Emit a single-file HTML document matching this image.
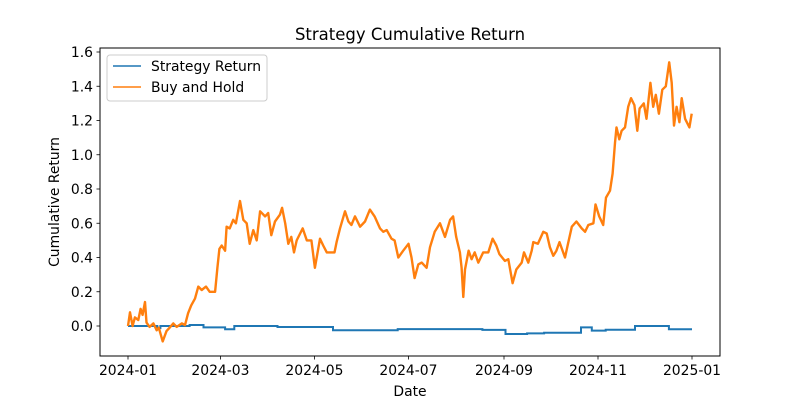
<!DOCTYPE html>
<html><head><meta charset="utf-8"><style>
body{margin:0;background:#fff;}
svg text{font-family:"DejaVu Sans","Liberation Sans",sans-serif;fill:#000;}
</style></head><body>
<svg id="chart" width="800" height="400" viewBox="0 0 800 400" xmlns="http://www.w3.org/2000/svg">
<rect width="800" height="400" fill="#fff"/>
<text x="410" y="40" font-size="16.5" text-anchor="middle">Strategy Cumulative Return</text>
<g id="plot"></g>
<rect x="100" y="48" width="620" height="308" fill="none" stroke="#000" stroke-width="1"/>
<text x="410" y="396" font-size="13.9" text-anchor="middle">Date</text>
<text transform="translate(59,202) rotate(-90)" font-size="13.9" text-anchor="middle">Cumulative Return</text>
<g>
<rect x="107" y="55" width="160" height="46" rx="3" fill="#fff" fill-opacity="0.8" stroke="#ccc"/>
<line x1="113" y1="66" x2="141" y2="66" stroke="#1f77b4" stroke-width="1.5"/>
<text x="151" y="71" font-size="13.9">Strategy Return</text>
<line x1="113" y1="87" x2="141" y2="87" stroke="#ff7f0e" stroke-width="1.5"/>
<text x="151" y="92" font-size="13.9">Buy and Hold</text>
</g>
</svg>
<script>
const xTickLabels=["2024-01","2024-03","2024-05","2024-07","2024-09","2024-11","2025-01"];
const xTickDays=[0,60,121,182,244,305,366];
const yTicks=[0,0.2,0.4,0.6,0.8,1.0,1.2,1.4,1.6];
const holdDays=[0,1.3,3,4.5,6.7,8.2,9.5,11,12,14,16.5,18.6,20,22.5,25,27,29.4,31.6,35,37,39,41,43.5,45.6,47.8,50.6,53,56.5,58,59.3,60.8,63,64,66,68.3,70,72.7,74.8,77,79,81.3,83.5,85.7,89,91,93,95.4,98.6,100,102,104,106,107.7,109.5,113.4,116,119,121.3,124.6,126.7,129,132,134,135.4,137.6,140.8,143,145,147.3,150.6,153.8,157,160,163.5,165.7,167.9,171,173,175.4,178.6,182,184,186,188.4,190.6,193.8,196,199,202.5,205.7,209,211,213,215.4,216.5,217.6,218.7,221,223,225,227.3,230.5,233.8,236.6,239,241,244.6,246.8,249.6,252,255.5,257,259.8,262,263,266,269.5,271.7,273.8,276,278,280,283.6,285.5,288,291,294.4,296.6,298.7,302,303.4,305.8,308.4,310.2,312.8,314.5,316,317,318.8,320.3,322.5,324.6,326.4,328.6,330.5,332,334.7,336.5,339,340.8,342.5,344.5,346.7,349,351.2,352.8,354.3,356,357.8,359.3,361.5,364.3,365.8];
const holdValues=[0,0.08,0,0.05,0.035,0.1,0.065,0.14,0.02,-0.005,0.015,-0.025,-0.01,-0.09,-0.03,-0.01,0.015,-0.005,0.015,0.005,0.075,0.12,0.16,0.23,0.21,0.23,0.2,0.2,0.34,0.45,0.47,0.44,0.58,0.57,0.62,0.6,0.73,0.62,0.6,0.48,0.56,0.5,0.67,0.64,0.66,0.53,0.61,0.65,0.69,0.6,0.48,0.52,0.43,0.5,0.57,0.5,0.5,0.34,0.51,0.47,0.43,0.43,0.43,0.49,0.57,0.67,0.61,0.59,0.64,0.58,0.61,0.68,0.64,0.57,0.55,0.56,0.51,0.5,0.4,0.44,0.48,0.4,0.28,0.36,0.37,0.34,0.46,0.55,0.6,0.52,0.62,0.64,0.52,0.43,0.34,0.17,0.33,0.44,0.39,0.43,0.37,0.43,0.43,0.51,0.47,0.42,0.38,0.39,0.25,0.33,0.37,0.43,0.37,0.44,0.49,0.48,0.55,0.54,0.46,0.41,0.44,0.49,0.4,0.48,0.58,0.61,0.57,0.55,0.59,0.6,0.71,0.64,0.59,0.75,0.79,0.89,1.07,1.16,1.09,1.14,1.16,1.28,1.33,1.29,1.14,1.27,1.3,1.21,1.42,1.28,1.35,1.24,1.38,1.4,1.54,1.42,1.17,1.28,1.19,1.33,1.21,1.16,1.24];
const stratDays=[0,19,21,40,49,63,69,97,133,175,230,245,259,270,294,301,310,329,351];
const stratValues=[0,-0.012,0,0.006,-0.008,-0.019,0,-0.006,-0.025,-0.018,-0.023,-0.047,-0.043,-0.039,-0.008,-0.027,-0.022,0,-0.019];
const lastDay=366;

const NS="http://www.w3.org/2000/svg";
const plot=document.getElementById('plot');
function xs(d){return 128+d*(564/366);}
function ys(v){return 326-v*171.25;}
function mk(tag,attrs){const e=document.createElementNS(NS,tag);for(const k in attrs)e.setAttribute(k,attrs[k]);plot.appendChild(e);return e;}

xTickDays.forEach((d,i)=>{
  const t=mk('line',{x1:xs(d),x2:xs(d),y1:356,y2:359.5,stroke:'#000','stroke-width':0.8});
  
  
  const l=mk('text',{x:xs(d),y:375,'font-size':13.9,'text-anchor':'middle'});
  l.textContent=xTickLabels[i];
  
  
});
yTicks.forEach(v=>{
  const t=mk('line',{x1:96.5,x2:100,y1:ys(v),y2:ys(v),stroke:'#000','stroke-width':0.8});
  
  
  const l=mk('text',{x:93,y:ys(v)+5,'font-size':13.9,'text-anchor':'end'});
  l.textContent=v.toFixed(1);
  
  
});
let sd='';
stratDays.forEach((d,i)=>{
  const next=i<stratDays.length-1?stratDays[i+1]:lastDay;
  sd+=(i?'L':'M')+xs(d).toFixed(1)+','+ys(stratValues[i]).toFixed(1)+'L'+xs(next).toFixed(1)+','+ys(stratValues[i]).toFixed(1);
});
const sp=mk('path',{d:sd,fill:'none',stroke:'#1f77b4','stroke-width':2});


const hd=holdDays.map((dd,i)=>(i?'L':'M')+xs(dd).toFixed(1)+','+ys(holdValues[i]).toFixed(1)).join('');
const hp=mk('path',{d:hd,fill:'none',stroke:'#ff7f0e','stroke-width':2.4,'stroke-linejoin':'round'});


</script>
</body></html>
